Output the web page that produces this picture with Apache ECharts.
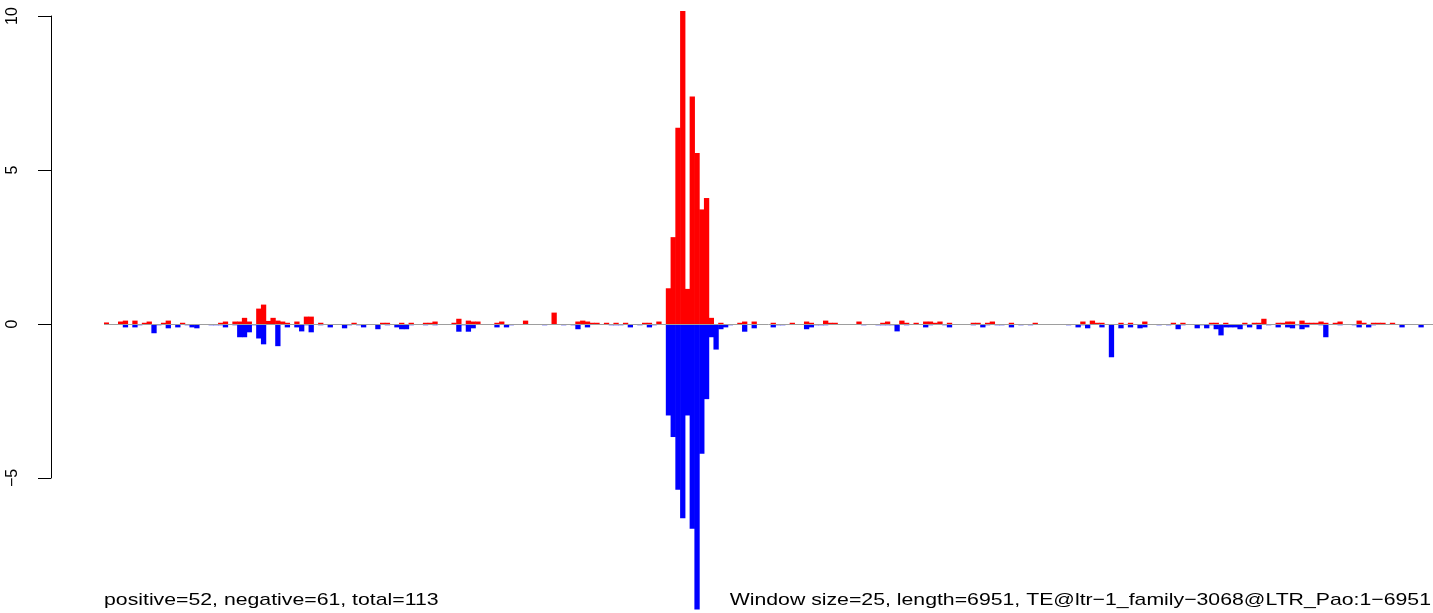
<!DOCTYPE html>
<html>
<head>
<meta charset="utf-8">
<script src="https://cdn.jsdelivr.net/npm/echarts@6/dist/echarts.min.js"></script>
<style>
html,body{margin:0;padding:0;background:#fff;}
#chart{width:1433px;height:613px;}
</style>
</head>
<body>
<div id="chart"></div>
<script>
// ---- data ----
var windowSize = 25;
var seqLength = 6951;
var binCount = 279;
var yTicks = [-5, 0, 5, 10];
var leftNote = "positive=52, negative=61, total=113";
var rightNote = "Window size=25, length=6951, TE@ltr\u22121_family\u22123068@LTR_Pao:1\u22126951";

// [bin index, value] for positive-strand (red) windows
var positiveBins = [
[0,0.05],[3,0.08],[4,0.11],[6,0.11],[8,0.04],[9,0.08],[12,0.04],[13,0.11],[16,0.04],[24,0.04],[25,0.08],[27,0.08],[28,0.08],[29,0.2],[30,0.08],[32,0.5],[33,0.63],[34,0.1],[35,0.2],[36,0.11],[37,0.08],[38,0.04],[40,0.08],[42,0.24],[43,0.24],[45,0.04],[52,0.04],[58,0.04],[59,0.04],[62,0.04],[64,0.04],[67,0.04],[68,0.04],[69,0.08],[73,0.04],[74,0.17],[76,0.11],[77,0.08],[78,0.08],[82,0.04],[83,0.08],[88,0.11],[94,0.37],[99,0.08],[100,0.11],[101,0.08],[102,0.04],[103,0.04],[105,0.04],[107,0.04],[109,0.04],[113,0.04],[114,0.04],[116,0.08],
[118,1.16],[119,2.82],[120,6.37],[121,10.16],[122,1.14],[123,7.39],[124,5.55],[125,3.72],[126,4.09],[127,0.2],
[129,0.04],[133,0.04],[134,0.08],[136,0.08],[140,0.04],[144,0.04],[147,0.08],[148,0.04],[151,0.11],[152,0.04],[153,0.04],[158,0.08],[163,0.04],[164,0.08],[167,0.11],[168,0.04],[170,0.04],[172,0.08],[173,0.08],[174,0.04],[175,0.08],[177,0.04],[182,0.04],[183,0.04],[185,0.04],[186,0.08],[190,0.04],[195,0.04],
[205,0.08],[207,0.11],[208,0.04],[209,0.04],[213,0.04],[215,0.04],[218,0.08],[224,0.04],[226,0.04],[232,0.04],[233,0.04],[235,0.04],[239,0.04],[241,0.04],[242,0.04],[243,0.17],[246,0.04],[247,0.04],[248,0.08],[249,0.08],[251,0.11],[252,0.04],[253,0.04],[254,0.04],[255,0.08],[256,0.04],[258,0.04],[259,0.08],[263,0.11],[264,0.04],[266,0.04],[267,0.04],[268,0.04],[270,0.04]
];

// [bin index, value] for negative-strand (blue) windows
var negativeBins = [
[4,-0.11],[6,-0.11],[7,-0.04],[10,-0.3],[11,-0.04],[13,-0.14],[15,-0.11],[17,-0.04],[18,-0.11],[19,-0.14],[22,-0.04],[23,-0.04],[24,-0.04],[25,-0.11],[27,-0.04],[28,-0.43],[29,-0.43],[30,-0.27],[31,-0.04],[32,-0.47],[33,-0.66],[36,-0.72],[38,-0.11],[40,-0.11],[41,-0.24],[42,-0.04],[43,-0.27],[45,-0.04],[47,-0.11],[50,-0.14],[51,-0.04],[53,-0.04],[54,-0.11],[57,-0.17],[59,-0.04],[61,-0.11],[62,-0.17],[63,-0.17],[64,-0.04],[67,-0.04],[69,-0.04],[74,-0.25],[75,-0.04],[76,-0.25],[77,-0.14],[82,-0.11],[84,-0.11],[85,-0.04],[92,-0.04],[96,-0.04],[98,-0.04],[99,-0.17],[101,-0.11],[106,-0.04],[107,-0.04],[108,-0.04],[110,-0.11],[112,-0.04],[114,-0.11],[115,-0.04],
[118,-2.97],[119,-3.67],[120,-5.38],[121,-6.31],[122,-2.97],[123,-6.65],[124,-9.27],[125,-4.21],[126,-2.44],[127,-0.43],[128,-0.83],
[129,-0.17],[130,-0.11],[131,-0.04],[134,-0.25],[136,-0.14],[140,-0.11],[141,-0.04],[142,-0.04],[147,-0.17],[148,-0.11],[149,-0.04],[150,-0.04],[151,-0.04],[159,-0.04],[162,-0.04],[163,-0.04],[164,-0.04],[165,-0.04],[166,-0.24],[168,-0.04],[172,-0.11],[173,-0.04],[176,-0.04],[177,-0.11],[182,-0.04],[184,-0.11],[185,-0.04],[187,-0.04],[188,-0.04],[190,-0.11],[192,-0.04],[194,-0.04],
[202,-0.04],[204,-0.11],[205,-0.04],[206,-0.14],[209,-0.11],[211,-1.08],[213,-0.14],[215,-0.11],[217,-0.14],[218,-0.11],[221,-0.04],[223,-0.04],[225,-0.17],[226,-0.04],[229,-0.14],[230,-0.04],[231,-0.14],[232,-0.04],[233,-0.17],[234,-0.37],[235,-0.11],[236,-0.11],[237,-0.11],[238,-0.17],[239,-0.04],[240,-0.11],[242,-0.17],[244,-0.04],[246,-0.11],[248,-0.11],[249,-0.14],[250,-0.04],[251,-0.17],[252,-0.11],[255,-0.04],[256,-0.43],[259,-0.04],[262,-0.04],[263,-0.11],[265,-0.11],[266,-0.04],[272,-0.11],[276,-0.11]
];

// window start positions as category names
var categories = [];
for (var i = 0; i < binCount; i++) { categories.push(String(i * windowSize + 1)); }

var FONT = '"Liberation Sans", Arial, Helvetica, sans-serif';
var chart = echarts.init(document.getElementById('chart'), null, {renderer: 'canvas'});
chart.setOption({
  animation: false,
  backgroundColor: '#ffffff',
  grid: [
    {left: 104, right: 0, top: 0.6, bottom: 2.56, containLabel: false},
    {left: 51, width: 1, top: 16, height: 462, containLabel: false}
  ],
  xAxis: [
    {type: 'category', gridIndex: 0, data: categories, show: false, boundaryGap: true},
    {type: 'value', gridIndex: 1, show: false, min: 0, max: 1}
  ],
  yAxis: [
    {type: 'value', gridIndex: 0, min: -9.3, max: 10.5, show: false},
    {
      type: 'value', gridIndex: 1, min: yTicks[0], max: yTicks[yTicks.length - 1], interval: 5,
      axisLine: {show: true, lineStyle: {color: '#000', width: 1}},
      axisTick: {show: true, length: 13, inside: false, lineStyle: {color: '#000', width: 1}},
      splitLine: {show: false},
      axisLabel: {
        show: true, rotate: 90, margin: 30, color: '#000', fontSize: 16, fontFamily: FONT,
        formatter: function (v) { return String(v).replace('-', '\u2212'); }
      }
    }
  ],
  series: [
    {
      type: 'bar', name: 'positive', xAxisIndex: 0, yAxisIndex: 0,
      data: positiveBins, itemStyle: {color: '#ff0000'},
      barWidth: 5.3, barGap: '-100%', silent: true
    },
    {
      type: 'bar', name: 'negative', xAxisIndex: 0, yAxisIndex: 0,
      data: negativeBins, itemStyle: {color: '#0000ff'},
      barWidth: 5.3, barGap: '-100%', silent: true,
      markLine: {
        silent: true, symbol: 'none', label: {show: false},
        lineStyle: {color: '#9e9e9e', width: 1, type: 'solid'},
        data: [{yAxis: 0}]
      }
    }
  ],
  graphic: [
    {type: 'text', x: 104, y: 600, scaleX: 1.25, silent: true,
     style: {text: leftNote, font: '17px ' + FONT, fill: '#000', textAlign: 'left', textVerticalAlign: 'middle'}},
    {type: 'text', x: 1431, y: 600, scaleX: 1.25, silent: true,
     style: {text: rightNote, font: '17px ' + FONT, fill: '#000', textAlign: 'right', textVerticalAlign: 'middle'}}
  ]
});
</script>
</body>
</html>
